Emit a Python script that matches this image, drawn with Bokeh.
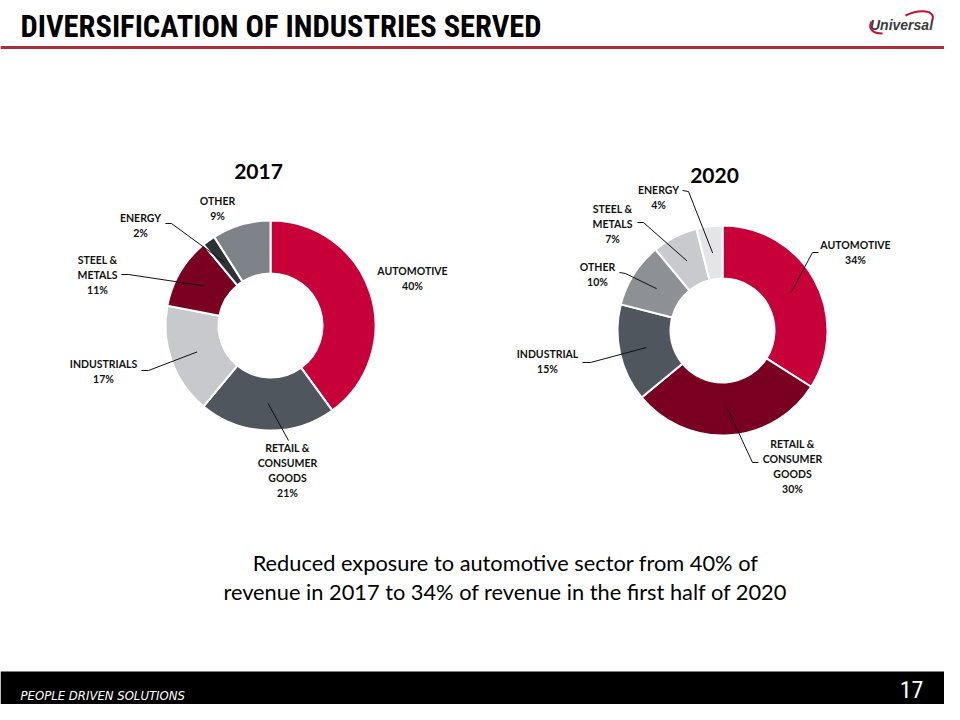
import numpy as np
from bokeh.plotting import figure
from bokeh.models import Range1d, ColumnDataSource
from bokeh.core.properties import value
from bokeh.embed import file_html
from bokeh.resources import INLINE

# ---------------- data ----------------
cats_2017 = ["AUTOMOTIVE", "RETAIL & CONSUMER GOODS", "INDUSTRIALS", "STEEL & METALS", "ENERGY", "OTHER"]
vals_2017 = [40, 21, 17, 11, 2, 9]
lines_2017 = [["AUTOMOTIVE"], ["RETAIL &", "CONSUMER", "GOODS"], ["INDUSTRIALS"], ["STEEL &", "METALS"], ["ENERGY"], ["OTHER"]]

cats_2020 = ["AUTOMOTIVE", "RETAIL & CONSUMER GOODS", "INDUSTRIAL", "OTHER", "STEEL & METALS", "ENERGY"]
vals_2020 = [34, 30, 15, 10, 7, 4]
lines_2020 = [["AUTOMOTIVE"], ["RETAIL &", "CONSUMER", "GOODS"], ["INDUSTRIAL"], ["OTHER"], ["STEEL &", "METALS"], ["ENERGY"]]

title_text = "DIVERSIFICATION OF INDUSTRIES SERVED"
subtitle_lines = ["Reduced exposure to automotive sector from 40% of",
                  "revenue in 2017 to 34% of revenue in the first half of 2020"]
footer_text = "PEOPLE DRIVEN SOLUTIONS"
page_number = "17"

# ---------------- styles / layout ----------------
colors_2017 = ["#C8003A", "#4F565E", "#C8C9CC", "#7A0022", "#2D3235", "#7E8389"]
colors_2020 = ["#C8003A", "#7A0022", "#4F565E", "#8D9095", "#C9CACD", "#E4E5E7"]

def Y(py):
    return 720 - py

LBL_FONT = value("Lato")
R_OUT, R_IN, R_LEAD = 105, 52, 78
LINE_GAP = 15

charts = [
    dict(year="2017", cx=270, cy=325, vals=vals_2017, lines=lines_2017, colors=colors_2017,
         title_xy=(258, 171),
         label_xy=[(412, 270), (287, 447), (103, 363), (97, 259), (140, 217), (217, 200)],
         leaders=[None, [(288, 440)], [(141, 370), (148, 370)], [(121, 274), (128, 274)],
                  [(165, 223), (171, 223)], None]),
    dict(year="2020", cx=722, cy=330, vals=vals_2020, lines=lines_2020, colors=colors_2020,
         title_xy=(714, 175),
         label_xy=[(855, 244), (792, 443), (547, 353), (597, 266), (612, 208), (658, 189)],
         leaders=[[(818, 252), (812, 252)], [(758, 462), (752, 462)], [(582, 362), (590, 362)],
                  [(619, 272), (625, 273)], [(637, 222), (643, 222)], [(682, 190), (688, 191)]]),
]

p = figure(width=944, height=704, x_range=Range1d(0, 944), y_range=Range1d(16, 720),
           output_backend="svg", toolbar_location=None, min_border=0,
           x_axis_location=None, y_axis_location=None,
           background_fill_color="white", border_fill_color="white", outline_line_color=None)
p.grid.grid_line_color = None

# header
p.text(x=[20], y=[Y(26)], text=[title_text], text_font=value("Roboto Condensed"),
       text_font_style="bold", text_font_size="30.5px", text_baseline="middle",
       text_align="left", text_color="black")
p.segment(x0=[0], y0=[Y(47)], x1=[960], y1=[Y(47)], line_color="#A8303E", line_width=3)

# logo
p.bezier(x0=[871], y0=[Y(21)], x1=[882], y1=[Y(33)], cx0=[867], cy0=[Y(29)], cx1=[873], cy1=[Y(33)],
         line_color="#C8102E", line_width=2)
p.bezier(x0=[905], y0=[Y(15)], x1=[932], y1=[Y(19)], cx0=[920], cy0=[Y(8)], cx1=[935], cy1=[Y(10)],
         line_color="#C8102E", line_width=2)
p.text(x=[901], y=[Y(24.5)], text=["Universal"], text_font=value("Liberation Sans"),
       text_font_style="bold italic", text_font_size="14px", text_baseline="middle",
       text_align="center", text_color="#3C3C3C")

# donuts
for ch in charts:
    vals = np.array(ch["vals"], dtype=float)
    cum = np.concatenate([[0], np.cumsum(vals)]) / vals.sum()
    start = np.pi / 2 - 2 * np.pi * cum[1:]
    end = np.pi / 2 - 2 * np.pi * cum[:-1]
    src = ColumnDataSource(dict(start=start, end=end, color=ch["colors"]))
    p.annular_wedge(x=ch["cx"], y=Y(ch["cy"]), inner_radius=R_IN, outer_radius=R_OUT,
                    start_angle="start", end_angle="end", fill_color="color",
                    line_color="white", line_width=2, source=src)
    # year title
    tx, ty = ch["title_xy"]
    p.text(x=[tx], y=[Y(ty)], text=[ch["year"]], text_font=LBL_FONT, text_font_style="bold",
           text_font_size="21px", text_align="center", text_baseline="middle", text_color="black")
    # labels
    xs, ys, ts = [], [], []
    for i, (lines, (lx, ly)) in enumerate(zip(ch["lines"], ch["label_xy"])):
        all_lines = lines + [f"{int(ch['vals'][i])}%"]
        for k, t in enumerate(all_lines):
            xs.append(lx); ys.append(Y(ly + k * LINE_GAP)); ts.append(t)
    p.text(x=xs, y=ys, text=ts, text_font=LBL_FONT, text_font_style="bold",
           text_font_size="10.5px", text_align="center", text_baseline="middle", text_color="#111111")
    # leaders
    lx_list, ly_list = [], []
    for i, pts in enumerate(ch["leaders"]):
        if pts is None:
            continue
        mid = (cum[i] + cum[i + 1]) / 2
        th = np.pi / 2 - 2 * np.pi * mid
        ix = ch["cx"] + R_LEAD * np.cos(th)
        iy = Y(ch["cy"]) + R_LEAD * np.sin(th)
        lx_list.append([q[0] for q in pts] + [ix])
        ly_list.append([Y(q[1]) for q in pts] + [iy])
    p.multi_line(xs=lx_list, ys=ly_list, line_color="#111111", line_width=1)

# subtitle
p.text(x=[505, 505], y=[Y(562), Y(591)], text=subtitle_lines, text_font=LBL_FONT,
       text_font_size="21.8px", text_align="center", text_baseline="middle", text_color="black")

# footer
p.quad(left=[0], right=[960], bottom=[0], top=[Y(671)], fill_color="black", line_color=None)
p.text(x=[20], y=[Y(695)], text=[footer_text], text_font=value("DejaVu Sans Condensed"),
       text_font_style="italic", text_font_size="13px", text_align="left",
       text_baseline="middle", text_color="white")
p.text(x=[911], y=[Y(689)], text=[page_number], text_font=value("Roboto Condensed"),
       text_font_size="24px", text_align="center", text_baseline="middle", text_color="white")

open("out.html", "w").write(file_html(p, INLINE))
